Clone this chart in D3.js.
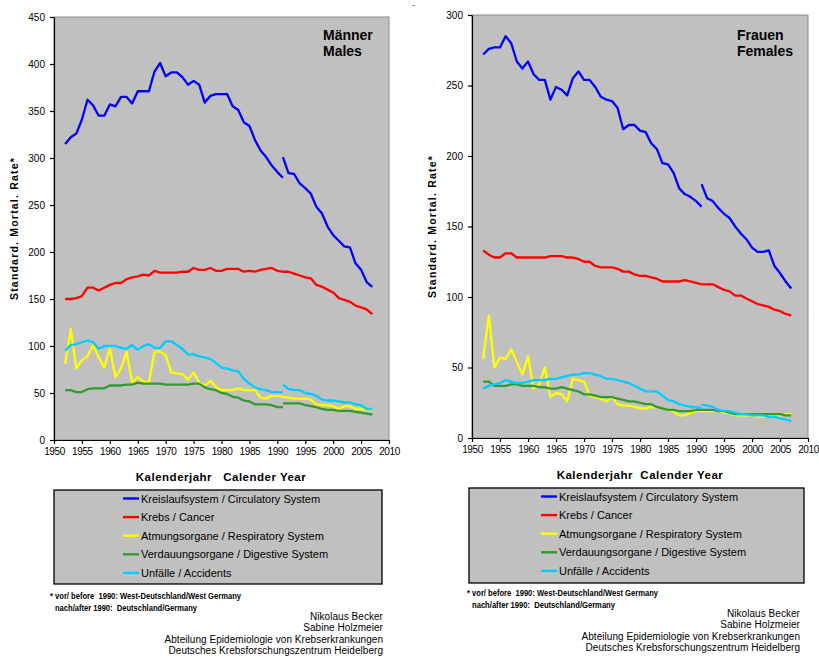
<!DOCTYPE html>
<html>
<head>
<meta charset="utf-8">
<script src="https://cdn.jsdelivr.net/npm/d3@7/dist/d3.min.js"></script>
<style>
  html, body { margin: 0; padding: 0; background: #ffffff; }
  svg { display: block; font-family: "Liberation Sans", Arial, sans-serif; }
  text { white-space: pre; }
</style>
</head>
<body>
<svg id="chart" width="819" height="660"></svg>
<script>
// Causes of death, legend order (also drawing order)
const causes = [
  "Kreislaufsystem / Circulatory System",
  "Krebs / Cancer",
  "Atmungsorgane / Respiratory System",
  "Verdauungsorgane / Digestive System",
  "Unfälle / Accidents"
];
const causeColors = ["#0000ff", "#ff0000", "#ffff00", "#339933", "#00ccff"];

// Calendar years: West Germany series and unified Germany series
const westYears = d3.range(1952, 1992);
const unifiedYears = d3.range(1991, 2008);
const xTicks = [1950, 1955, 1960, 1965, 1970, 1975, 1980, 1985, 1990, 1995, 2000, 2005, 2010];
const maleYTicks = [0, 50, 100, 150, 200, 250, 300, 350, 400, 450];
const femaleYTicks = [0, 50, 100, 150, 200, 250, 300];

// Männer / Males — standardised mortality rates
const maleCirculatoryWest = [315, 322, 326, 341, 362, 356, 345, 345, 357, 355,
  365, 365, 358, 371, 371, 371, 392, 401, 387, 391,
  391, 386, 378, 382, 378, 359, 366, 368, 368, 368,
  355, 351, 338, 334, 319, 308, 301, 292, 285, 279];
const maleCirculatoryUnified = [301, 284, 283, 273, 268, 262, 248, 241, 227, 218, 212, 206, 205, 188, 181, 168, 163];

const maleCancerWest = [150, 150, 151, 153, 162, 162, 159, 162, 165, 167,
  167, 171, 173, 174, 176, 175, 180, 178, 178, 178,
  178, 179, 179, 183, 181, 181, 183, 180, 180, 182,
  182, 182, 179, 180, 179, 181, 182, 183, 180, 179];
const maleCancerUnified = [179, 179, 177, 175, 173, 172, 165, 163, 160, 157, 151, 149, 147, 143, 141, 139, 134];

const maleRespiratoryWest = [81, 118, 76, 85, 89, 101, 88, 77, 98, 67,
  76, 94, 61, 67, 62, 61, 94, 94, 90, 72,
  71, 70, 64, 72, 61, 58, 63, 56, 53, 53,
  53, 55, 53, 53, 53, 45, 44, 47, 47, 46];
const maleRespiratoryUnified = [46, 45, 44, 44, 44, 43, 38, 37, 37, 36, 33, 36, 36, 33, 33, 32, 32];

const maleDigestiveWest = [53, 53, 51, 51, 54, 55, 55, 55, 58, 58,
  58, 59, 59, 61, 60, 60, 60, 60, 59, 59,
  59, 59, 59, 60, 60, 56, 54, 53, 50, 49,
  46, 45, 42, 41, 38, 38, 38, 37, 35, 35];
const maleDigestiveUnified = [39, 39, 39, 39, 37, 36, 35, 33, 32, 32, 31, 31, 31, 30, 29, 28, 27];

const maleAccidentsWest = [95, 101, 102, 104, 106, 104, 97, 100, 100, 100,
  98, 97, 101, 96, 100, 102, 98, 98, 105, 105,
  101, 97, 91, 91, 89, 88, 86, 82, 77, 76,
  74, 73, 65, 60, 56, 54, 53, 51, 51, 51];
const maleAccidentsUnified = [59, 54, 53, 53, 50, 49, 47, 43, 42, 42, 41, 40, 40, 38, 37, 33, 33];

// Frauen / Females — standardised mortality rates
const femaleCirculatoryWest = [272, 276, 277, 277, 285, 280, 267, 262, 267, 258,
  254, 254, 240, 249, 247, 243, 255, 260, 254, 254,
  249, 242, 240, 239, 234, 219, 222, 222, 218, 217,
  209, 205, 195, 194, 188, 177, 173, 171, 168, 164];
const femaleCirculatoryUnified = [180, 170, 168, 163, 159, 156, 150, 145, 141, 135, 132, 132, 133, 122, 117, 111, 106];

const femaleCancerWest = [133, 130, 128, 128, 131, 131, 128, 128, 128, 128,
  128, 128, 129, 129, 129, 128, 128, 127, 125, 125,
  122, 121, 121, 121, 120, 118, 118, 116, 115, 115,
  114, 113, 111, 111, 111, 111, 112, 111, 110, 109];
const femaleCancerUnified = [109, 109, 109, 107, 105, 104, 101, 101, 99, 97, 95, 94, 93, 91, 90, 88, 87];

const femaleRespiratoryWest = [56, 87, 50, 57, 56, 63, 54, 45, 58, 35,
  38, 50, 29, 32, 31, 26, 42, 41, 40, 30,
  29, 28, 26, 29, 24, 23, 23, 22, 21, 21,
  22, 22, 21, 20, 19, 16, 16, 18, 19, 19];
const femaleRespiratoryUnified = [19, 19, 19, 19, 18, 18, 16, 16, 16, 16, 15, 15, 16, 16, 16, 17, 17];

const femaleDigestiveWest = [40, 40, 37, 37, 37, 38, 38, 37, 37, 37,
  36, 36, 35, 35, 36, 35, 34, 33, 31, 31,
  30, 29, 29, 29, 28, 27, 26, 26, 25, 24,
  24, 22, 21, 20, 20, 19, 19, 19, 20, 20];
const femaleDigestiveUnified = [20, 20, 20, 19, 19, 18, 17, 17, 17, 17, 17, 17, 17, 17, 17, 16, 16];

const femaleAccidentsWest = [35, 37, 38, 39, 41, 40, 39, 39, 40, 41,
  41, 41, 42, 42, 43, 44, 45, 45, 46, 46,
  45, 44, 42, 42, 41, 40, 39, 37, 35, 33,
  33, 33, 30, 27, 26, 24, 23, 22, 22, 21];
const femaleAccidentsUnified = [23.5, 23, 22, 20, 19, 19, 18, 17, 17, 16, 16, 16, 15, 15, 14, 13, 12];

// Text blocks
const yTitle = "Standard. Mortal. Rate*";
const footnoteLines = ["* vor/ before  1990: West-Deutschland/West Germany", "nach/after 1990:  Deutschland/Germany"];
const authorLines = ["Nikolaus Becker", "Sabine Holzmeier", "Abteilung Epidemiologie von Krebserkrankungen", "Deutsches Krebsforschungszentrum Heidelberg"];

const svg = d3.select("#chart");

// stray mark at the top of the sheet
svg.append("text").attr("x", 412).attr("y", 8).attr("font-size", 9).attr("fill", "#444").text("-");

function drawPanel(p) {
  const g = svg.append("g");
  const x = d3.scaleLinear().domain([1950, 2010]).range([p.left, p.right]);
  const y = d3.scaleLinear().domain([0, p.yMax]).range([p.bottom, p.top]);

  // plot area
  g.append("rect")
    .attr("x", p.left).attr("y", p.top)
    .attr("width", p.right - p.left).attr("height", p.bottom - p.top)
    .attr("fill", "#c0c0c0").attr("stroke", "#8c8c8c").attr("stroke-width", 1);

  // axes
  const yAxis = g.append("g").attr("transform", `translate(${p.left},0)`)
    .call(d3.axisLeft(y).tickValues(p.yTicks).tickSize(4).tickSizeOuter(0).tickPadding(5));
  const xAxis = g.append("g").attr("transform", `translate(0,${p.bottom})`)
    .call(d3.axisBottom(x).tickValues(xTicks).tickFormat(d3.format("d")).tickSize(4).tickSizeOuter(0).tickPadding(4));
  [yAxis, xAxis].forEach(a => {
    a.select(".domain").attr("stroke", "#000").attr("stroke-width", 1.2);
    a.selectAll(".tick line").attr("stroke", "#000").attr("stroke-width", 1.2);
    a.selectAll("text").attr("fill", "#000").attr("font-family", "Liberation Sans, Arial, sans-serif").attr("font-size", 10);
  });
  xAxis.selectAll("text").attr("letter-spacing", "-0.4px");

  // series lines
  const line = d3.line().x(d => x(d[0])).y(d => y(d[1]));
  p.series.forEach((s, i) => {
    [[westYears, s[0]], [unifiedYears, s[1]]].forEach(([yrs, vals]) => {
      g.append("path")
        .datum(yrs.map((yr, k) => [yr, vals[k]]))
        .attr("d", line)
        .attr("fill", "none")
        .attr("stroke", causeColors[i])
        .attr("stroke-width", 2.3)
        .attr("stroke-linejoin", "round");
    });
  });

  // panel title
  p.title.forEach((t, k) => {
    g.append("text").attr("x", p.titleX).attr("y", p.titleY + k * 15.5)
      .attr("font-size", 14).attr("font-weight", "bold").attr("fill", "#000").text(t);
  });

  // y axis title
  g.append("text")
    .attr("transform", `translate(${p.yTitleX},${(p.top + p.bottom) / 2}) rotate(-90)`)
    .attr("text-anchor", "middle").attr("font-size", 10.5).attr("font-weight", "bold")
    .attr("letter-spacing", "1.2px").attr("fill", "#000").text(yTitle);

  // x axis title
  g.append("text").attr("x", p.xTitleX).attr("y", p.xTitleY)
    .attr("text-anchor", "middle").attr("font-size", 11.5).attr("font-weight", "bold")
    .attr("letter-spacing", "0.5px").attr("fill", "#000").text(p.xTitle);

  // legend
  const lg = svg.append("g");
  lg.append("rect").attr("x", p.legend.x).attr("y", p.legend.y)
    .attr("width", p.legend.w).attr("height", p.legend.h)
    .attr("fill", "#c0c0c0").attr("stroke", "#000").attr("stroke-width", 1.3);
  causes.forEach((c, i) => {
    const ry = p.legend.y + 8.5 + i * 18.6;
    lg.append("line").attr("x1", p.legend.sx).attr("x2", p.legend.sx + 16)
      .attr("y1", ry).attr("y2", ry)
      .attr("stroke", causeColors[i]).attr("stroke-width", 2.4);
    lg.append("text").attr("x", p.legend.sx + 18).attr("y", ry + 4)
      .attr("font-size", 11).attr("fill", "#000").text(c);
  });

  // footnote (condensed, set to a fixed run length)
  footnoteLines.forEach((t, k) => {
    svg.append("text").attr("x", p.footX + k * 5).attr("y", p.footY + k * 11.5)
      .attr("font-size", 8.5).attr("font-weight", "bold")
      .attr("textLength", p.footLen[k]).attr("lengthAdjust", "spacingAndGlyphs")
      .attr("fill", "#000").text(t);
  });

  // authors
  authorLines.forEach((t, k) => {
    svg.append("text").attr("x", p.authorX).attr("y", p.authorY + k * 11.4)
      .attr("text-anchor", "end").attr("font-size", 10).attr("letter-spacing", "0.05px")
      .attr("fill", "#000").text(t);
  });
}

drawPanel({
  left: 54, right: 389, top: 17, bottom: 440, yMax: 450, yTicks: maleYTicks,
  series: [
    [maleCirculatoryWest, maleCirculatoryUnified],
    [maleCancerWest, maleCancerUnified],
    [maleRespiratoryWest, maleRespiratoryUnified],
    [maleDigestiveWest, maleDigestiveUnified],
    [maleAccidentsWest, maleAccidentsUnified]
  ],
  title: ["Männer", "Males"], titleX: 323, titleY: 40,
  yTitleX: 18, xTitle: "Kalenderjahr   Calender Year", xTitleX: 221, xTitleY: 481,
  legend: { x: 54, y: 490, w: 328, h: 94, sx: 123 },
  footX: 50, footY: 599, footLen: [191, 142], authorX: 383, authorY: 620
});

drawPanel({
  left: 472, right: 808, top: 15, bottom: 438, yMax: 300, yTicks: femaleYTicks,
  series: [
    [femaleCirculatoryWest, femaleCirculatoryUnified],
    [femaleCancerWest, femaleCancerUnified],
    [femaleRespiratoryWest, femaleRespiratoryUnified],
    [femaleDigestiveWest, femaleDigestiveUnified],
    [femaleAccidentsWest, femaleAccidentsUnified]
  ],
  title: ["Frauen", "Females"], titleX: 737, titleY: 40,
  yTitleX: 436, xTitle: "Kalenderjahr  Calender Year", xTitleX: 640, xTitleY: 479,
  legend: { x: 469, y: 488, w: 335, h: 95, sx: 541 },
  footX: 467, footY: 596, footLen: [191, 143], authorX: 800, authorY: 617
});
</script>
</body>
</html>
